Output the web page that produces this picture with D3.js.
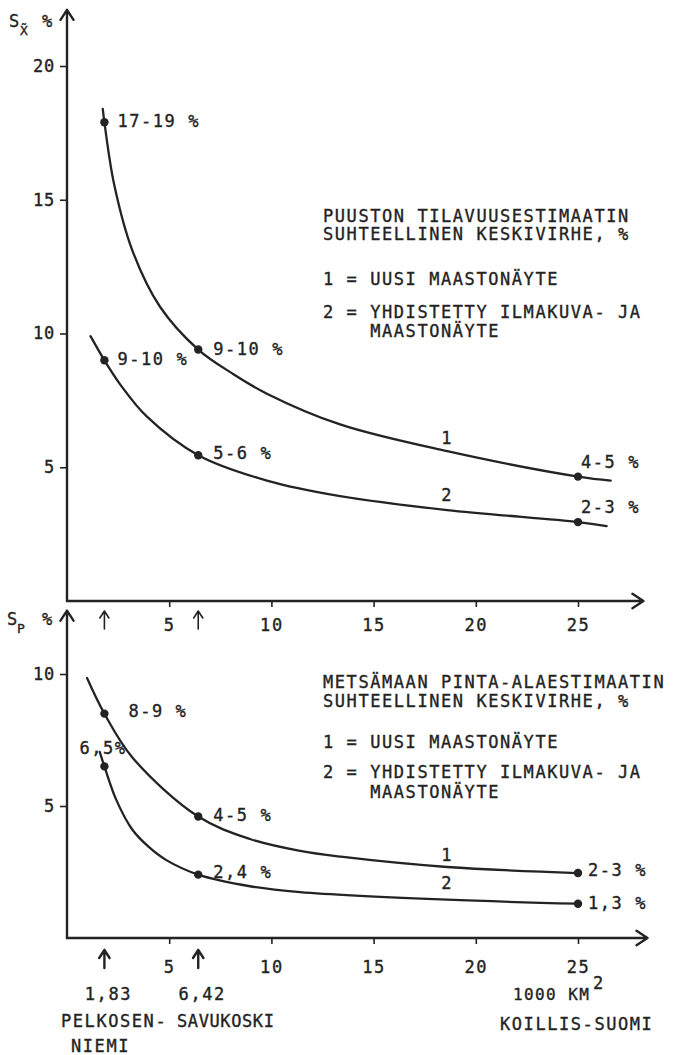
<!DOCTYPE html>
<html>
<head>
<meta charset="utf-8">
<script src="https://cdn.jsdelivr.net/npm/d3@7"></script>
<style>
  html, body { margin: 0; padding: 0; background: #fff; }
</style>
</head>
<body>
<svg id="chart" width="674" height="1055"></svg>
<script>
// ---- Data -------------------------------------------------------------
// x: area of the inventory unit, 1000 km²
const xTickValues = [5, 10, 15, 20, 25];
const siteAreas = [1.83, 6.42];
const siteAreaLabels = ["1,83", "6,42"];
const pointAreas = [1.83, 6.42, 25];

// Upper panel: relative standard error of the growing stock volume estimate (%)
const volumeTicks = [5, 10, 15, 20];
const volumeField = [17.9, 9.4, 4.65];            // 1 = new field sample
const volumeFieldText = ["17-19 %", "9-10 %", "4-5 %"];
const volumeCombined = [9.0, 5.45, 2.95];         // 2 = combined aerial photo and field sample
const volumeCombinedText = ["9-10 %", "5-6 %", "2-3 %"];
const volumeFieldCurveX = [1.75, 1.83, 2.3, 3.2, 4.55, 6.42, 8.1, 9.78, 13.36, 18.6, 25, 26.6];
const volumeFieldCurveY = [18.4, 17.9, 15.6, 13.1, 11.0, 9.4, 8.5, 7.75, 6.6, 5.6, 4.65, 4.5];
const volumeCombinedCurveX = [1.15, 1.83, 2.6, 3.9, 6.42, 9.78, 13.36, 18.6, 25, 26.4];
const volumeCombinedCurveY = [9.9, 9.0, 8.1, 6.9, 5.45, 4.5, 3.92, 3.4, 2.95, 2.8];

// Lower panel: relative standard error of the forest land area estimate (%)
const areaTicks = [5, 10];
const areaField = [8.5, 4.6, 2.46];
const areaFieldText = ["8-9 %", "4-5 %", "2-3 %"];
const areaCombined = [6.5, 2.4, 1.3];
const areaCombinedText = ["6,5%", "2,4 %", "1,3 %"];
const areaFieldCurveX = [0.98, 1.83, 3.22, 6.42, 8.95, 11.4, 13.4, 18.6, 25];
const areaFieldCurveY = [9.85, 8.5, 6.82, 4.6, 3.75, 3.3, 3.08, 2.69, 2.46];
const areaCombinedCurveX = [1.6, 1.83, 2.4, 3.2, 4.0, 4.86, 6.42, 8.95, 11.4, 18.6, 25];
const areaCombinedCurveY = [7.05, 6.5, 5.25, 4.1, 3.45, 2.95, 2.4, 1.96, 1.74, 1.45, 1.3];

// Texts
const volumeTitle = ["PUUSTON TILAVUUSESTIMAATIN", "SUHTEELLINEN KESKIVIRHE, %"];
const areaTitle = ["METSÄMAAN PINTA-ALAESTIMAATIN", "SUHTEELLINEN KESKIVIRHE, %"];
const legendLines = ["1 = UUSI MAASTONÄYTE", "2 = YHDISTETTY ILMAKUVA- JA", "MAASTONÄYTE"];
const seriesNames = ["1", "2"];
const regionNames = ["PELKOSEN-", "NIEMI", "SAVUKOSKI", "KOILLIS-SUOMI"];
const unitLabel = "1000 KM";

// ---- Style ------------------------------------------------------------
const FONT = "'DejaVu Sans Mono', 'Liberation Mono', monospace";
const INK = "#232323";
const FS = 17;
const PITCH = 11.8;
const LS = PITCH - FS * 0.602;

const svg = d3.select("#chart");

function text(x, y, s, o = {}) {
  return svg.append("text")
    .attr("x", x).attr("y", y)
    .attr("font-family", FONT)
    .attr("font-size", o.size || FS)
    .attr("letter-spacing", o.ls !== undefined ? o.ls : LS)
    .attr("text-anchor", o.anchor || "start")
    .attr("fill", INK)
    .attr("stroke", INK).attr("stroke-width", 0.35)
    .text(s);
}

function strokePath(d, w) {
  return svg.append("path").attr("d", d)
    .attr("fill", "none").attr("stroke", INK)
    .attr("stroke-width", w).attr("stroke-linecap", "round")
    .attr("stroke-linejoin", "round");
}

function arrowUp(x, yTip, yTail, head, w) {
  strokePath(`M${x},${yTail}V${yTip}M${x - head * 0.65},${yTip + head}L${x},${yTip}L${x + head * 0.65},${yTip + head}`, w);
}
function arrowRight(xTip, y, xTail, head, w) {
  strokePath(`M${xTail},${y}H${xTip}M${xTip - head},${y - head * 0.65}L${xTip},${y}L${xTip - head},${y + head * 0.65}`, w);
}

// ---- Panel drawing ------------------------------------------------------
function drawPanel(p) {
  const x = d3.scaleLinear().domain([0, 25]).range(p.xRange);
  const y = d3.scaleLinear().domain(p.yDomain).range(p.yRange);
  const y0 = y(0), x0 = x(0);

  // axes lines with arrowheads
  arrowUp(x0, y(p.yEnd), y0, 10, 2.4);
  arrowRight(x(p.xEnd), y0, x0, 11, 2.4);

  // x ticks and labels
  const gx = svg.append("g").attr("transform", `translate(0,${y0})`)
    .call(d3.axisBottom(x).tickValues(xTickValues).tickSize(6)
      .tickSizeOuter(0).tickPadding(p.xPad).tickFormat(d3.format("d")));
  gx.select(".domain").remove();
  gx.selectAll(".tick line").attr("stroke", INK).attr("stroke-width", 1.6);
  gx.selectAll(".tick text").attr("font-family", FONT).attr("font-size", FS)
    .attr("fill", INK).attr("letter-spacing", LS)
    .attr("stroke", INK).attr("stroke-width", 0.35);

  // y ticks and labels
  const gy = svg.append("g").attr("transform", `translate(${x0},0)`)
    .call(d3.axisLeft(y).tickValues(p.yTicks).tickSize(7)
      .tickSizeOuter(0).tickPadding(5).tickFormat(d3.format("d")));
  gy.select(".domain").remove();
  gy.selectAll(".tick line").attr("stroke", INK).attr("stroke-width", 1.6);
  gy.selectAll(".tick text").attr("font-family", FONT).attr("font-size", FS)
    .attr("fill", INK).attr("letter-spacing", 0.8)
    .attr("stroke", INK).attr("stroke-width", 0.35);

  // site arrows under the x axis
  siteAreas.forEach(a => arrowUp(x(a), y0 + p.arrowGap, y0 + p.arrowGap + p.arrowLen, p.arrowHead, p.arrowW));

  const line = d3.line().x(d => x(d[0])).y(d => y(d[1])).curve(d3.curveCatmullRom.alpha(0.5));

  p.series.forEach((s, i) => {
    const pts = s.cx.map((v, k) => [v, s.cy[k]]);
    svg.append("path").datum(pts).attr("d", line)
      .attr("fill", "none").attr("stroke", INK).attr("stroke-width", 2.3)
      .attr("stroke-linecap", "round");

    pointAreas.forEach((a, k) => {
      svg.append("circle").attr("cx", x(a)).attr("cy", y(s.values[k])).attr("r", 4.2).attr("fill", INK);
      text(x(a) + s.offsets[k][0], y(s.values[k]) + s.offsets[k][1], s.texts[k]);
    });

    text(x(s.nameAt[0]), y(s.nameAt[1]), seriesNames[i], { anchor: "middle" });
  });

  // title and legend block
  const lx = 323;
  text(lx, p.titleY[0], p.title[0]);
  text(lx, p.titleY[1], p.title[1]);
  text(lx, p.legendY[0], legendLines[0]);
  text(lx, p.legendY[1], legendLines[1]);
  text(lx + 4 * PITCH, p.legendY[2], legendLines[2]);

  return { x, y };
}

// upper panel
drawPanel({
  xRange: [67, 578], yDomain: [0, 20], yRange: [601, 66],
  yEnd: 22.1, xEnd: 28.2, yTicks: volumeTicks, xPad: 12,
  arrowGap: 10, arrowLen: 18, arrowHead: 7, arrowW: 1.6,
  title: volumeTitle, titleY: [222, 240], legendY: [285, 318, 337],
  series: [
    { cx: volumeFieldCurveX, cy: volumeFieldCurveY, values: volumeField, texts: volumeFieldText,
      offsets: [[13, 5], [15, 5], [3, -9]], nameAt: [18.6, 5.86] },
    { cx: volumeCombinedCurveX, cy: volumeCombinedCurveY, values: volumeCombined, texts: volumeCombinedText,
      offsets: [[13, 5], [15, 4], [3, -9]], nameAt: [18.6, 3.73] }
  ]
});

// lower panel
drawPanel({
  xRange: [67, 578], yDomain: [0, 10], yRange: [938, 674],
  yEnd: 12.4, xEnd: 28.4, yTicks: areaTicks, xPad: 17,
  arrowGap: 12, arrowLen: 18, arrowHead: 8, arrowW: 2.4,
  title: areaTitle, titleY: [688, 707], legendY: [748, 778, 798],
  series: [
    { cx: areaFieldCurveX, cy: areaFieldCurveY, values: areaField, texts: areaFieldText,
      offsets: [[24, 3], [15, 4], [10, 3]], nameAt: [18.6, 2.92] },
    { cx: areaCombinedCurveX, cy: areaCombinedCurveY, values: areaCombined, texts: areaCombinedText,
      offsets: [[-25, -12], [15, 3], [10, 5]], nameAt: [18.6, 1.86] }
  ]
});

// y-axis headers
text(9, 27, "S", { ls: 0 });
text(20, 35, "X\u0303", { size: 13, ls: 0 });
text(42, 27, "%", { ls: 0 });

text(7, 625, "S", { ls: 0 });
text(17, 633, "P", { size: 13, ls: 0 });
text(42, 625, "%", { ls: 0 });

// area values and region names under the lower axis
const xs = d3.scaleLinear().domain([0, 25]).range([67, 578]);
siteAreaLabels.forEach((s, i) => text(xs(siteAreas[i]) + 4, 1000, s, { anchor: "middle" }));
text(513, 1000, unitLabel, { size: 16, ls: 1.4 });
text(593, 989, "2", { ls: 0 });
text(61, 1027, regionNames[0]);
text(71, 1052, regionNames[1]);
text(177, 1027, regionNames[2], { ls: 0.6 });
text(500, 1030, regionNames[3]);
</script>
</body>
</html>
